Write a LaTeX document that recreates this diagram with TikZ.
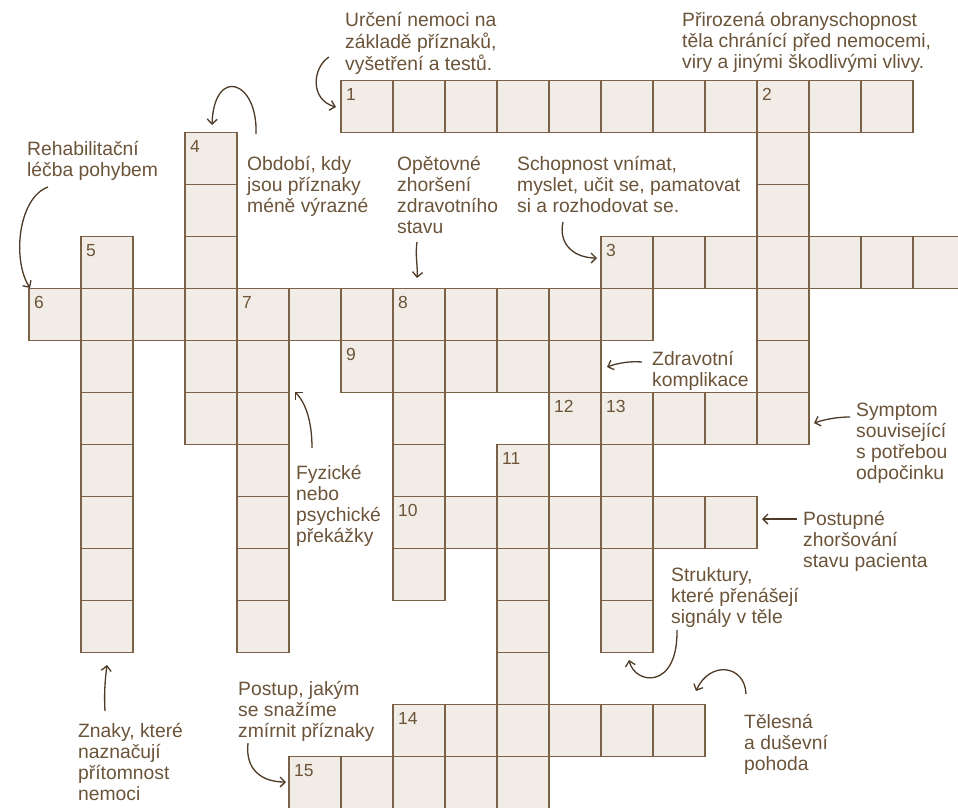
\documentclass[tikz,border=0pt]{standalone}
\usepackage{fontspec}
\setmainfont{Liberation Sans}
\usetikzlibrary{arrows.meta}
\definecolor{cellfill}{HTML}{F1EDE6}
\definecolor{cellline}{HTML}{7A6246}
\definecolor{textcol}{HTML}{6B5439}
\definecolor{arrowcol}{HTML}{4E3A26}
\newcommand\cluetext[1]{\begin{tabular}[t]{@{}l@{}}#1\end{tabular}}
\begin{document}
\begin{tikzpicture}[x=1pt,y=-1pt,
  cellbox/.style={draw=cellline,fill=cellfill,line width=1.2pt,minimum size=52pt,inner sep=0pt,outer sep=0pt},
  numlbl/.style={anchor=north west,inner sep=0pt,text=textcol,font=\fontsize{17.5}{19}\selectfont},
  clue/.style={anchor=base west,inner sep=0pt,text=textcol,font=\fontsize{19.3}{21}\selectfont},
  pointer/.style={draw=arrowcol,line width=1.3pt,-{Straight Barb[length=5pt,width=10pt]}}]
\clip (0,0) rectangle (958,807);
\fill[white] (0,0) rectangle (958,807);
% cells
\foreach \c/\r in {6/0,7/0,8/0,9/0,10/0,11/0,12/0,13/0,14/0,15/0,16/0,
  3/1,14/1,3/2,14/2,
  1/3,3/3,11/3,12/3,13/3,14/3,15/3,16/3,17/3,
  0/4,1/4,2/4,3/4,4/4,5/4,6/4,7/4,8/4,9/4,10/4,11/4,14/4,
  1/5,3/5,4/5,6/5,7/5,8/5,9/5,10/5,14/5,
  1/6,3/6,4/6,7/6,10/6,11/6,12/6,13/6,14/6,
  1/7,4/7,7/7,9/7,11/7,
  1/8,4/8,7/8,8/8,9/8,10/8,11/8,12/8,13/8,
  1/9,4/9,7/9,9/9,11/9,
  1/10,4/10,9/10,11/10,
  9/11,
  7/12,8/12,9/12,10/12,11/12,12/12,
  5/13,6/13,7/13,8/13,9/13}
  \node[cellbox] (k\c-\r) at ({29+52*\c+26},{80.5+52*\r+26}) {};
% numbers
\foreach \c/\r/\n in {6/0/1,14/0/2,11/3/3,3/1/4,1/3/5,0/4/6,4/4/7,7/4/8,6/5/9,7/8/10,9/7/11,10/6/12,11/6/13,7/12/14,5/13/15}
  \node[numlbl] (n\n) at ([xshift=5pt,yshift=-8pt]k\c-\r.north west) {\n};
% clues
\node[clue] (t1) at (345,26.7) {\cluetext{Určení nemoci na\\ základě příznaků,\\ vyšetření a testů.}};
\node[clue] (t2) at (682,26.7) {\cluetext{Přirozená obranyschopnost\\ těla chránící před nemocemi,\\ viry a jinými škodlivými vlivy.}};
\node[clue] (t3) at (27,155) {\cluetext{Rehabilitační\\ léčba pohybem}};
\node[clue] (t4) at (247,170) {\cluetext{Období, kdy\\ jsou příznaky\\ méně výrazné}};
\node[clue] (t5) at (397,170) {\cluetext{Opětovné\\ zhoršení\\ zdravotního\\ stavu}};
\node[clue] (t6) at (517,170) {\cluetext{Schopnost vnímat,\\ myslet, učit se, pamatovat\\ si a rozhodovat se.}};
\node[clue] (t7) at (652,365) {\cluetext{Zdravotní\\ komplikace}};
\node[clue] (t8) at (856,416) {\cluetext{Symptom\\ související\\ s potřebou\\ odpočinku}};
\node[clue] (t9) at (296,479) {\cluetext{Fyzické\\ nebo\\ psychické\\ překážky}};
\node[clue] (t10) at (803,525) {\cluetext{Postupné\\ zhoršování\\ stavu pacienta}};
\node[clue] (t11) at (671,581) {\cluetext{Struktury,\\ které přenášejí\\ signály v těle}};
\node[clue] (t12) at (744,728) {\cluetext{Tělesná\\ a duševní\\ pohoda}};
\node[clue] (t13) at (78,737) {\cluetext{Znaky, které\\ naznačují\\ přítomnost\\ nemoci}};
\node[clue] (t14) at (238,695) {\cluetext{Postup, jakým\\ se snažíme\\ zmírnit příznaky}};
% arrow end points
\coordinate (s1) at (329,57);   \coordinate (e1) at (336,107);
\coordinate (s2) at (256,134);  \coordinate (e2) at (212,125);
\coordinate (s3) at (48,187);   \coordinate (e3) at (30,288);
\coordinate (s4) at (417,242);  \coordinate (e4) at (417,278);
\coordinate (s5) at (563,222);  \coordinate (e5) at (597,258);
\coordinate (s6) at (642,362);  \coordinate (e6) at (607,367);
\coordinate (s7) at (850,417);  \coordinate (e7) at (814,423);
\coordinate (s8) at (312,448);  \coordinate (e8) at (295,392);
\coordinate (s9) at (797,519);  \coordinate (e9) at (762,519);
\coordinate (s10) at (677,630); \coordinate (e10) at (629,660);
\coordinate (s11) at (746,694); \coordinate (e11) at (696,691);
\coordinate (s12) at (105,711); \coordinate (e12) at (107,665);
\coordinate (s13) at (248,743); \coordinate (e13) at (286,782);
% arrows
\draw[pointer] (s1) .. controls (312,68) and (310,100) .. (e1);
\draw[pointer] (s2) .. controls (258,80) and (214,66) .. (e2);
\draw[pointer] (s3) .. controls (18,198) and (12,260) .. (e3);
\draw[pointer] (s4) .. controls (415,255) and (418,268) .. (e4);
\draw[pointer] (s5) .. controls (558,245) and (575,258) .. (e5);
\draw[pointer] (s6) .. controls (630,361) and (618,363) .. (e6);
\draw[pointer] (s7) .. controls (838,417) and (826,419) .. (e7);
\draw[pointer] (s8) .. controls (312,420) and (305,402) .. (e8);
\draw[pointer] (s9) -- (e9);
\draw[pointer] (s10) .. controls (678,690) and (635,685) .. (e10);
\draw[pointer] (s11) .. controls (745,665) and (710,660) .. (e11);
\draw[pointer] (s12) .. controls (104,695) and (105,680) .. (e12);
\draw[pointer] (s13) .. controls (245,770) and (262,782) .. (e13);
\end{tikzpicture}
\end{document}
